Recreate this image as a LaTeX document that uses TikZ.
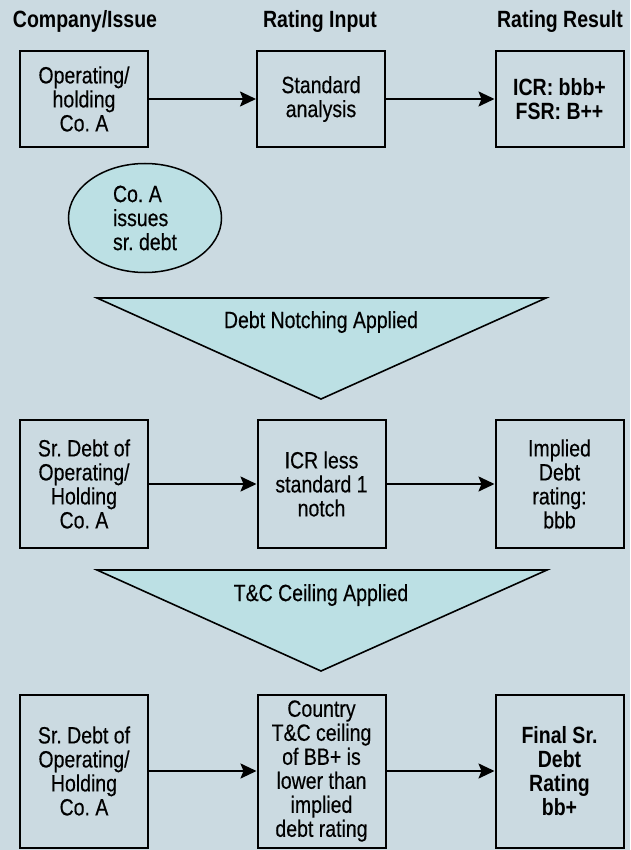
\documentclass[tikz,border=0pt]{standalone}
\usepackage{fontspec}
\setmainfont{Liberation Sans}[FakeStretch=0.83,UprightFeatures={FakeBold=0.35}]
\usetikzlibrary{arrows.meta,shapes.geometric}
\definecolor{bgblue}{HTML}{CBDAE1}
\definecolor{fillcyan}{HTML}{BCE0E4}
\frenchspacing

\begin{document}
\begin{tikzpicture}[x=1pt,y=-1pt,
  txt/.style={font=\fontsize{23.5}{24}\selectfont},
  head/.style={font=\fontsize{23.5}{24}\selectfont\bfseries},
  box/.style={txt, draw=black, line width=2pt, minimum width=128pt, align=center, inner sep=0pt},
  boldbox/.style={box, font=\fontsize{23.5}{24}\selectfont\bfseries},
  arr/.style={-{Stealth[length=16pt,width=15pt,inset=3pt]}, line width=2pt},
  banner/.style={draw=black, line width=1.6pt, fill=fillcyan, line join=miter}]

% page and background
\useasboundingbox (0,0) rectangle (630,850);
\fill[bgblue] (0,0) rectangle (630,850);

% column headings
\node[head] (hcomp) at (85,21) {Company/Issue};
\node[head] (hinput) at (320,21) {Rating Input};
\node[head] (hresult) at (560,21) {Rating Result};

% row 1: issuer rating
\node[box, minimum height=96pt] (op) at (84,99) {Operating/\\holding\\Co. A};
\node[box, minimum height=96pt] (std) at (321,99) {Standard\\analysis};
\node[boldbox, minimum height=96pt] (icr) at (559.5,99) {ICR: bbb+\\FSR: B++};
\draw[arr] (op) -- (std);
\draw[arr] (std) -- (icr);

% debt issue
\node[txt, draw=black, line width=1.5pt, fill=fillcyan, ellipse,
      minimum width=153pt, minimum height=109pt, inner sep=0pt, align=left]
      (issue) at (145,218) {Co. A\\issues\\sr. debt};

% notching step
\draw[banner] (97,298) -- (546,298) -- (321,399) -- cycle;
\node[txt] (notchlbl) at (321,322) {Debt Notching Applied};

% row 2: notched debt rating
\node[box, minimum height=128pt] (debt1) at (84,484) {Sr. Debt of\\Operating/\\Holding\\Co. A};
\node[box, minimum height=128pt] (less) at (321.5,484) {ICR less\\standard 1\\notch};
\node[box, minimum height=128pt] (implied) at (559.5,484) {Implied\\Debt\\rating:\\bbb};
\draw[arr] (debt1) -- (less);
\draw[arr] (less) -- (implied);

% ceiling step
\draw[banner] (97,570) -- (547,570) -- (321,671) -- cycle;
\node[txt] (ceillbl) at (321,595) {T\&C Ceiling Applied};

% row 3: final debt rating
\node[box, minimum height=153pt] (debt2) at (84,771) {Sr. Debt of\\Operating/\\Holding\\Co. A};
\node[box, minimum height=153pt] (ceil) at (321.5,771) {Country\\T\&C ceiling\\of BB+ is\\lower than\\implied\\debt rating};
\node[boldbox, minimum height=153pt] (final) at (559.5,771) {Final Sr.\\Debt\\Rating\\bb+};
\draw[arr] (debt2) -- (ceil);
\draw[arr] (ceil) -- (final);
\end{tikzpicture}
\end{document}
